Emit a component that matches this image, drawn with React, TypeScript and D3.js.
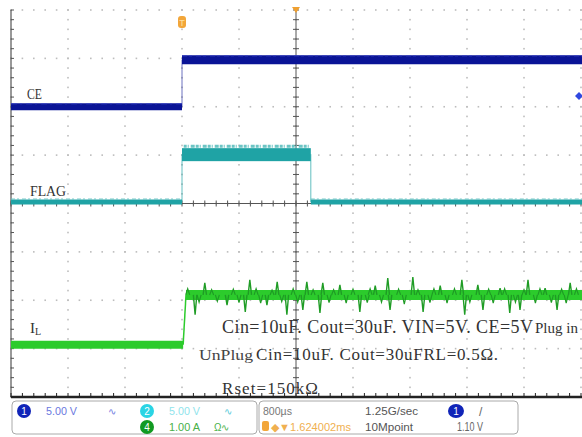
import * as d3 from 'd3';

// scope screen: 10 horizontal divisions, 8 vertical divisions (values in divisions)
const W = 582;
const H = 437;

// CE (ch1): [time div, level div]
const ceLevels = [2.0, 2.97];
const ceEdge = 3.0;
// FLAG (ch2)
const flagLevels = [0.03, 1.02];
const flagRise = 3.0;
const flagFall = 5.26;
// IL (ch4)
const ilLevels = [-2.92, -1.89];
const ilRise = 3.02;
// IL noise spikes: [time div, level div]
const ilSpikes: [number, number][] = [
  [3.23, -2.3], [3.4, -1.64], [3.79, -2.1], [4.11, -2.24], [4.19, -1.58],
  [4.49, -2.1], [4.67, -1.62], [4.84, -2.3], [5.12, -2.2], [5.19, -1.62],
  [5.42, -2.26], [5.47, -1.64], [5.77, -1.68], [6.12, -2.24], [6.39, -1.7],
  [6.61, -1.54], [6.65, -2.2], [7.05, -1.52], [7.23, -2.24], [7.53, -1.7],
  [7.91, -1.58], [7.96, -2.3], [8.19, -1.68], [8.28, -2.2], [8.58, -1.75],
  [8.75, -2.26], [8.93, -2.2], [9.07, -1.58], [9.37, -1.75], [9.58, -2.2],
  [9.81, -1.64],
];
// smaller ripple on the IL band
const ilRipple: [number, number][] = [
  [3.1, -1.76], [3.3, -2.04], [3.52, -1.78], [3.62, -2.02], [3.9, -1.77],
  [4.0, -2.05], [4.3, -1.76], [4.38, -2.06], [4.58, -1.79], [4.75, -2.03],
  [4.95, -1.76], [5.03, -2.04], [5.3, -1.78], [5.58, -2.05], [5.66, -1.78],
  [5.88, -2.06], [6.0, -1.77], [6.25, -2.05], [6.3, -1.76], [6.5, -2.04],
  [6.8, -1.77], [6.9, -2.08], [7.14, -1.78], [7.35, -2.05], [7.42, -1.76],
  [7.65, -2.06], [7.78, -1.76], [8.05, -2.04], [8.38, -1.77], [8.46, -2.06],
  [8.66, -1.76], [8.85, -2.04], [9.0, -1.78], [9.2, -2.06], [9.28, -1.76],
  [9.48, -2.05], [9.66, -1.77], [9.74, -2.06], [9.92, -1.76],
];

const triggerLevel = 2.22;

const annotations = [
  'Cin=10uF. Cout=30uF. VIN=5V. CE=5V',
  'Plug in',
  'UnPlug',
  'Cin=10uF. Cout=30uFRL=0.5Ω.',
  'Rset=150kΩ',
];

const CE_COLOR = '#0a1496';
const FLAG_COLOR = '#1fa3a5';
const IL_COLOR = '#2ccb2c';
const IL_DARK = '#1f9c25';

export default function App() {
  const x = d3.scaleLinear().domain([0, 10]).range([11, 581]);
  const y = d3.scaleLinear().domain([-4, 4]).range([397, 10]);

  const majorX = d3.range(0, 11);
  const majorY = d3.range(-4, 5);
  const minorX = d3.range(0, 10.01, 0.2);
  const minorY = d3.range(-4, 4.01, 0.2);

  const step = (pts: [number, number][]) => d3.line<[number, number]>().x(d => x(d[0])).y(d => y(d[1]))(pts) || '';

  const ceLow = step([[0, ceLevels[0]], [ceEdge, ceLevels[0]]]);
  const ceHigh = step([[ceEdge, ceLevels[1]], [10.2, ceLevels[1]]]);
  const ceEdgePath = step([[ceEdge, ceLevels[0]], [ceEdge, ceLevels[1]]]);

  const flagLow1 = step([[0, flagLevels[0]], [flagRise, flagLevels[0]]]);
  const flagLow2 = step([[flagFall, flagLevels[0]], [10.2, flagLevels[0]]]);
  const flagEdges = step([[flagRise, flagLevels[0]], [flagRise, flagLevels[1]]]) +
    step([[flagFall, flagLevels[1]], [flagFall, flagLevels[0]]]);

  const ilLow = step([[0, ilLevels[0]], [ilRise, ilLevels[0]]]);
  const ilHigh = step([[ilRise + 0.05, ilLevels[1]], [10.2, ilLevels[1]]]);
  const ilEdge = step([[ilRise, ilLevels[0]], [ilRise + 0.05, ilLevels[1]]]);

  const spike = ([t, v]: [number, number], w: number) =>
    step([[t - w, ilLevels[1]], [t, v], [t + w, ilLevels[1]]]);

  return (
    <svg width={W} height={H} style={{ position: 'absolute', left: 0, top: 0, background: '#fff' }}
      fontFamily="'Liberation Serif', serif">
      {/* grid dots */}
      <g fill="#bdbdbd">
        {majorY.map(v => minorX.map(t => (
          <rect key={`h${v}-${t}`} x={x(t) - 0.8} y={y(v) - 0.8} width={1.6} height={1.6} />
        )))}
        {majorX.map(t => minorY.map(v => (
          <rect key={`v${t}-${v}`} x={x(t) - 0.8} y={y(v) - 0.8} width={1.6} height={1.6} />
        )))}
      </g>

      {/* center axes */}
      <g stroke="#555" strokeWidth={1}>
        <line x1={x(5)} x2={x(5)} y1={y(4)} y2={y(-4)} />
        <line x1={x(0)} x2={x(10)} y1={y(0)} y2={y(0)} />
        {minorY.map(v => <line key={`cy${v}`} x1={x(5) - 3} x2={x(5) + 3} y1={y(v)} y2={y(v)} />)}
        {minorX.map(t => <line key={`cx${t}`} x1={x(t)} x2={x(t)} y1={y(0) - 3} y2={y(0) + 3} />)}
      </g>

      {/* left and bottom borders */}
      <g stroke="#555">
        <line x1={x(0)} x2={x(0)} y1={y(4)} y2={y(-4)} strokeWidth={1.2} />
        {minorY.map(v => <line key={`ly${v}`} x1={x(0)} x2={x(0) + 3} y1={y(v)} y2={y(v)} />)}
      </g>
      <g stroke="#222">
        <line x1={x(0)} x2={W} y1={y(-4)} y2={y(-4)} strokeWidth={2.5} />
        {minorX.map(t => <line key={`bx${t}`} x1={x(t)} x2={x(t)} y1={y(-4)} y2={y(-4) - 4} />)}
      </g>

      {/* CE trace */}
      <g fill="none" stroke={CE_COLOR}>
        <path d={ceEdgePath} strokeWidth={1} strokeOpacity={0.6} />
        <path d={ceLow} strokeWidth={7} />
        <path d={ceHigh} strokeWidth={9} />
        <path d={ceLow} strokeWidth={1} stroke="#3a44c0" strokeDasharray="6 3 2 4" transform="translate(0,-3)" />
        <path d={ceHigh} strokeWidth={1} stroke="#3a44c0" strokeDasharray="5 2 3 4" transform="translate(0,-4)" />
      </g>

      {/* FLAG trace */}
      <g fill="none" stroke={FLAG_COLOR}>
        <path d={flagEdges} strokeWidth={1} strokeOpacity={0.7} />
        <path d={flagLow1} strokeWidth={5} />
        <path d={flagLow2} strokeWidth={5} />
        <path d={flagLow1} strokeWidth={1} stroke="#6cc4c4" strokeDasharray="4 2 2 3" transform="translate(0,-3)" />
        <path d={flagLow2} strokeWidth={1} stroke="#6cc4c4" strokeDasharray="4 2 2 3" transform="translate(0,-3)" />
        <rect x={x(flagRise)} y={y(flagLevels[1]) - 6} width={x(flagFall) - x(flagRise)} height={13}
          fill={FLAG_COLOR} stroke="none" />
        <path d={step([[flagRise + 0.03, flagLevels[1]], [flagFall - 0.03, flagLevels[1]]])}
          transform="translate(0,-8)" stroke="#6cc4c4" strokeWidth={3} strokeDasharray="3 1 1 2 4 1" />
      </g>

      {/* IL trace */}
      <g fill="none" stroke={IL_COLOR}>
        <path d={ilEdge} strokeWidth={1.5} />
        <path d={ilLow} strokeWidth={8} />
        <path d={ilHigh} strokeWidth={10} />
        {ilRipple.map((p, i) => (
          <path key={`r${i}`} stroke={IL_DARK} strokeWidth={1.2} d={spike(p, 0.035)} />
        ))}
        {ilSpikes.map((p, i) => (
          <path key={i} stroke={IL_DARK} strokeWidth={1.4} d={spike(p, 0.03)} />
        ))}
      </g>

      {/* trigger markers */}
      <path d={`M${x(5) - 4},${y(4) - 3} L${x(5) + 4},${y(4) - 3} L${x(5)},${y(4) + 3} Z`} fill="#f0a030" />
      <rect x={x(ceEdge) - 4} y={16} width={8} height={12} rx={3} fill="#f2a63a" />
      <text x={x(ceEdge)} y={26} fontSize={9} fill="#ffe0a0" textAnchor="middle" fontFamily="'Liberation Sans', sans-serif">T</text>
      <path d={`M${W - 7},${y(triggerLevel)} l4,-4 l4,4 l-4,4 Z`} fill="#3048e0" />

      {/* channel labels */}
      <g fill="#333" fontSize={14}>
        <text x={27} y={99} textLength={15} lengthAdjust="spacingAndGlyphs">CE</text>
        <text x={30} y={196} textLength={36} lengthAdjust="spacingAndGlyphs">FLAG</text>
        <text x={30} y={333} fontSize={15}>I<tspan fontSize={10} dy={2}>L</tspan></text>
      </g>

      {/* annotations */}
      <g fill="#333">
        <text x={222} y={333} fontSize={18} textLength={311} lengthAdjust="spacing">{annotations[0]}</text>
        <text x={535} y={333} fontSize={15}>{annotations[1]}</text>
        <text x={199} y={360} fontSize={15} fill="#444" textLength={54} lengthAdjust="spacingAndGlyphs">{annotations[2]}</text>
        <text x={256} y={360} fontSize={17} textLength={242} lengthAdjust="spacing">{annotations[3]}</text>
        <text x={222} y={394} fontSize={17} textLength={96} lengthAdjust="spacing">{annotations[4]}</text>
      </g>

      {/* status bar */}
      <g fontFamily="'Liberation Sans', sans-serif" fontSize={11}>
        <rect x={12} y={401} width={245} height={33} rx={4} fill="#fff" stroke="#aaa" />
        <rect x={259} y={401} width={259} height={33} rx={4} fill="#fff" stroke="#aaa" />

        <ellipse cx={24} cy={411} rx={7} ry={7} fill="#1024b8" />
        <text x={24} y={415} fill="#fff" fontSize={10} textAnchor="middle">1</text>
        <text x={46} y={415} fill="#6a78e0" textLength={31} lengthAdjust="spacingAndGlyphs">5.00 V</text>
        <text x={108} y={415} fill="#6a78e0" fontSize={10}>∿</text>

        <ellipse cx={147} cy={411} rx={7} ry={7} fill="#2ad4e4" />
        <text x={147} y={415} fill="#fff" fontSize={10} textAnchor="middle">2</text>
        <text x={169} y={415} fill="#8fe4ec" textLength={31} lengthAdjust="spacingAndGlyphs">5.00 V</text>
        <text x={224} y={415} fill="#50c8d8" fontSize={10}>∿</text>

        <ellipse cx={147} cy={427} rx={7} ry={7} fill="#129a22" />
        <text x={147} y={431} fill="#fff" fontSize={10} textAnchor="middle">4</text>
        <text x={169} y={431} fill="#48b048" textLength={31} lengthAdjust="spacingAndGlyphs">1.00 A</text>
        <text x={214} y={431} fill="#48b048" fontSize={10}>Ω∿</text>

        <text x={263} y={415} fill="#777" textLength={29} lengthAdjust="spacingAndGlyphs">800µs</text>
        <rect x={262} y={421} width={7} height={10} rx={2} fill="#f2a63a" />
        <text x={271} y={431} fill="#f0b050" textLength={80} lengthAdjust="spacingAndGlyphs">◆▼1.624002ms</text>
        <text x={365} y={415} fill="#555" textLength={53} lengthAdjust="spacingAndGlyphs">1.25G/sec</text>
        <text x={365} y={431} fill="#555" textLength={48} lengthAdjust="spacingAndGlyphs">10Mpoint</text>
        <ellipse cx={456} cy={411} rx={8} ry={7} fill="#1024b8" />
        <text x={456} y={415} fill="#fff" fontSize={10} textAnchor="middle">1</text>
        <text x={479} y={416} fill="#666" fontSize={12}>/</text>
        <text x={457} y={431} fill="#666" fontSize={12} textLength={26} lengthAdjust="spacingAndGlyphs">1.10 V</text>
      </g>
    </svg>
  );
}
